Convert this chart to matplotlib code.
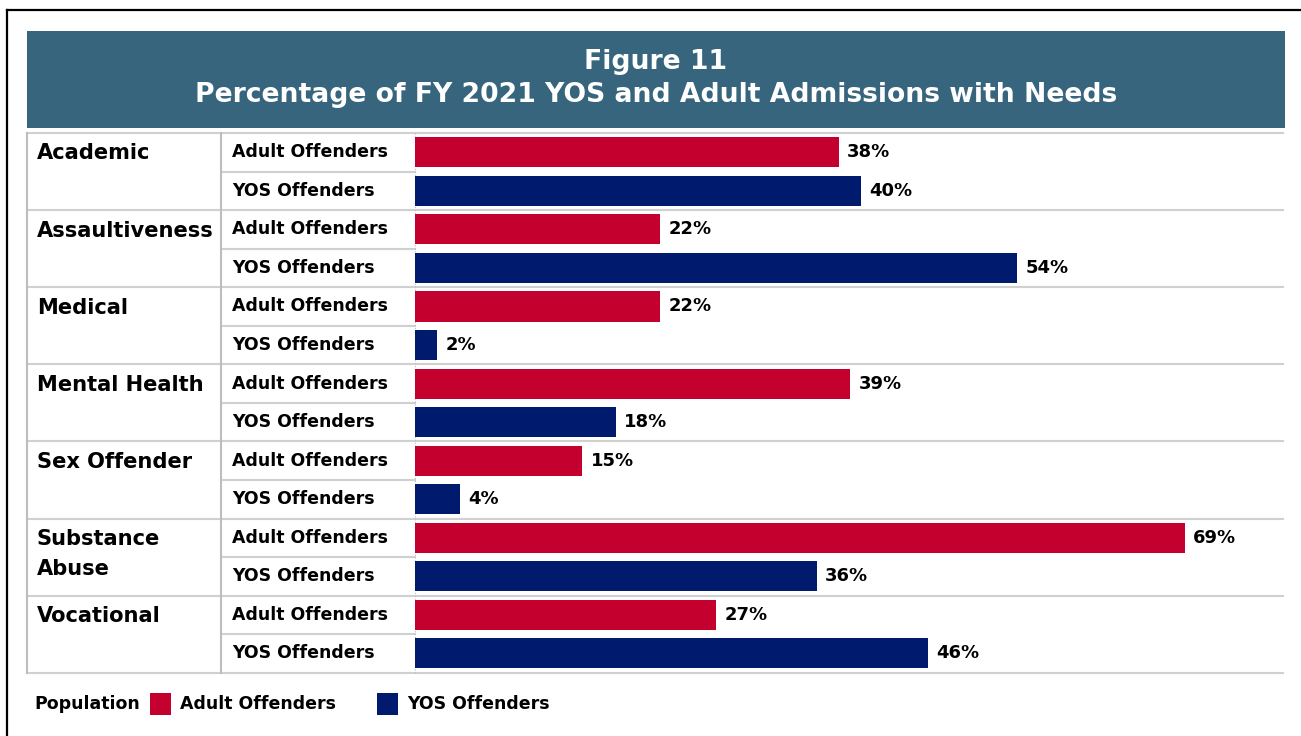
import matplotlib
matplotlib.use("Agg")
import matplotlib.pyplot as plt
from matplotlib.lines import Line2D
from matplotlib.patches import Rectangle
import matplotlib.transforms as mtrans

plt.rcParams["font.family"] = ["DejaVu Sans"]
plt.rcParams["font.weight"] = "bold"

kategoriler = ["Academic", "Assaultiveness", "Medical", "Mental Health",
               "Sex Offender", "Substance\nAbuse", "Vocational"]
gruplar = ["Adult Offenders", "YOS Offenders"]
yetiskin = [38, 22, 22, 39, 15, 69, 27]
yos = [40, 54, 2, 18, 4, 36, 46]

kirmizi = "#c4002f"
lacivert = "#001a6e"
baslik_renk = "#37657e"
cizgi = "#d0d0d0"
kenar = "#bdbdbd"

W, H = 1301, 736
fig = plt.figure(figsize=(W / 100, H / 100), dpi=100)


def px(x, y):
    # piksel -> figür oranı (y yukarıdan aşağı)
    return x / W, 1 - y / H


# dış çerçeve
fig.add_artist(Line2D([7 / W, 1], [1 - 10 / H] * 2, color="black", lw=1.6))
fig.add_artist(Line2D([7 / W] * 2, [0, 1 - 10 / H], color="black", lw=1.6))

# başlık bandı
x0, y1 = px(27, 31)
x1, y0 = px(1285, 128)
fig.add_artist(Rectangle((x0, y0), x1 - x0, y1 - y0, color=baslik_renk, lw=0))
fig.text((x0 + x1) / 2, 1 - 62 / H, "Figure 11", color="white",
         fontsize=19.2, ha="center", va="center")
fig.text((x0 + x1) / 2, 1 - 95 / H,
         "Percentage of FY 2021 YOS and Adult Admissions with Needs",
         color="white", fontsize=19.2, ha="center", va="center")

# çubuk alanı
tablo_ust, tablo_alt = 133, 672.7
bar_sol, bar_sag = 415, 1283
ax = fig.add_axes([bar_sol / W, 1 - tablo_alt / H,
                   (bar_sag - bar_sol) / W, (tablo_alt - tablo_ust) / H])
n = len(kategoriler)
ax.set_ylim(2 * n, 0)
ax.set_xlim(0, 77.8)
ax.axis("off")

for i in range(n):
    for j, (deger, renk) in enumerate([(yetiskin[i], kirmizi), (yos[i], lacivert)]):
        y = 2 * i + j + 0.5
        ax.barh(y, deger, height=0.78, color=renk)
        ax.annotate(f"{deger}%", (deger, y), xytext=(6, 0), textcoords="offset points",
                    va="center", ha="left", fontsize=13, color="black")

# tablo çizgileri (x figür, y veri)
tr = mtrans.blended_transform_factory(fig.transFigure, ax.transData)
for k in range(n + 1):
    fig.add_artist(Line2D([27 / W, bar_sag / W], [2 * k, 2 * k], transform=tr,
                          color=cizgi, lw=1.5, zorder=-1))
for k in range(n):
    fig.add_artist(Line2D([221 / W, bar_sol / W], [2 * k + 1, 2 * k + 1], transform=tr,
                          color=cizgi, lw=1.5, zorder=-1))
for xx in (27, 221):
    fig.add_artist(Line2D([xx / W] * 2, [0, 2 * n], transform=tr, color=kenar,
                          lw=1.5, zorder=-1))
fig.add_artist(Line2D([bar_sol / W] * 2, [0, 2 * n], transform=tr, color=kenar,
                      lw=0.8, ls=":", zorder=-1))

# etiketler
satir_px = (tablo_alt - tablo_ust) / (2 * n)
for i, kat in enumerate(kategoriler):
    for k, parca in enumerate(kat.split("\n")):
        fig.text(37 / W, 2 * i + 0.53 + k * 30 / satir_px, parca, transform=tr,
                 fontsize=15.1, va="center", ha="left")
    for j, g in enumerate(gruplar):
        fig.text(232 / W, 2 * i + j + 0.5, g, transform=tr, fontsize=12.5,
                 va="center", ha="left")

# lejant
ly = 1 - 704 / H
fig.text(34 / W, ly, "Population", fontsize=12.5, va="center", ha="left")
for sx, renk, g in [(150, kirmizi, gruplar[0]), (377, lacivert, gruplar[1])]:
    fig.add_artist(Rectangle((sx / W, 1 - 715 / H), 21 / W, 22 / H, color=renk, lw=0))
    fig.text((sx + 30) / W, ly, g, fontsize=12.5, va="center", ha="left")

fig.savefig("out.png", dpi=100)
